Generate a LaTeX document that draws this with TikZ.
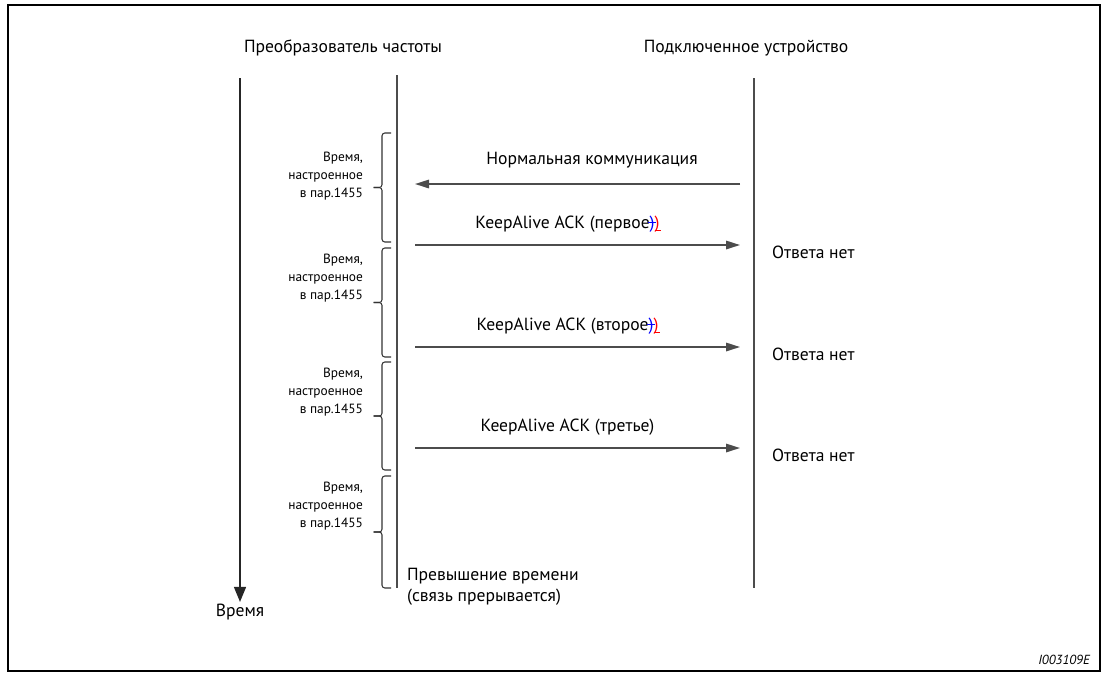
\documentclass[tikz,border=0pt]{standalone}
\usepackage{fontspec}
\setmainfont{PT Sans}
\usetikzlibrary{arrows.meta, positioning}

% tracked-change marks on the closing bracket
\newcommand{\delpar}{{\color{blue}\rlap{\kern-0.1em\rule[0.3em]{0.45em}{0.07em}})}}
\newcommand{\inspar}{{\color{red}\rlap{\rule[-0.18em]{0.35em}{0.07em}})}}

\begin{document}
\begin{tikzpicture}[
  lifeline/.style={line width=0.9pt, black!70},
  msg/.style={-{Triangle[length=2.8mm, width=1.7mm]}, line width=0.9pt, black!70},
  timearr/.style={-{Triangle[length=3mm, width=2.4mm]}, line width=0.8pt, black!85},
  lbl/.style={font=\fontsize{10}{12}\selectfont, inner sep=1pt},
  slbl/.style={font=\fontsize{7.6}{10.2}\selectfont, align=right, inner sep=1pt, anchor=east},
  brk/.style={line width=0.6pt, black!80, rounded corners=1.6pt}
]
  %% frame
  \useasboundingbox (0,0) rectangle (22.12,-13.44);
  \draw[line width=1.3pt] (0.16,-0.1) rectangle (22.0,-13.42);

  %% headings
  \node[lbl] (inv) at (6.86,-0.96) {Преобразователь частоты};
  \node[lbl] (dev) at (14.92,-0.96) {Подключенное устройство};

  %% lifelines
  \coordinate (invtop) at (7.94,-1.5);
  \coordinate (invbot) at (7.94,-11.76);
  \coordinate (devtop) at (15.08,-1.56);
  \coordinate (devbot) at (15.08,-11.76);
  \coordinate (ttop) at (4.8,-1.56);
  \draw[lifeline] (invtop) -- (invbot);
  \draw[lifeline] (devtop) -- (devbot);

  %% time axis
  \node[lbl] (tlbl) at (4.8,-12.24) {Время};
  \draw[timearr] (ttop) -- (tlbl.north);

  %% normal communication
  \coordinate (n0a) at (14.8,-3.68);
  \coordinate (n0b) at (8.3,-3.68);
  \draw[msg] (n0a) -- (n0b);
  \node[lbl] (n0) at (11.84,-3.2) {Нормальная коммуникация};

  %% KeepAlive messages
  \coordinate (k1a) at (8.3,-4.9);
  \coordinate (k1b) at (14.8,-4.9);
  \draw[msg] (k1a) -- (k1b);
  \node[lbl] (k1) at (11.35,-4.48) {KeepAlive ACK (первое\delpar\inspar};
  \node[lbl, anchor=west] (r1) at (15.4,-5.04) {Ответа нет};

  \coordinate (k2a) at (8.3,-6.94);
  \coordinate (k2b) at (14.8,-6.94);
  \draw[msg] (k2a) -- (k2b);
  \node[lbl] (k2) at (11.35,-6.52) {KeepAlive ACK (второе\delpar\inspar};
  \node[lbl, anchor=west] (r2) at (15.4,-7.08) {Ответа нет};

  \coordinate (k3a) at (8.3,-8.96);
  \coordinate (k3b) at (14.8,-8.96);
  \draw[msg] (k3a) -- (k3b);
  \node[lbl] (k3) at (11.35,-8.54) {KeepAlive ACK (третье)};
  \node[lbl, anchor=west] (r3) at (15.4,-9.1) {Ответа нет};

  %% time brackets
  \foreach \top/\bot/\ty [count=\i] in {2.66/4.84/3.52, 4.96/7.14/5.56, 7.24/9.4/7.84, 9.52/11.76/10.12} {
    \pgfmathsetmacro{\mid}{(\top+\bot)/2}
    \draw[brk] (7.82,-\top) -| (7.64,-\mid) -- (7.47,-\mid);
    \draw[brk] (7.47,-\mid) -- (7.64,-\mid) |- (7.82,-\bot);
    \node[slbl] (t\i) at (7.3,-\ty) {Время,\\настроенное\\в пар.1455};
  }

  %% timeout
  \node[lbl, anchor=west, align=left] (tout) at (8.1,-11.74)
    {Превышение времени\\(связь прерывается)};

  %% figure id
  \node[font=\fontsize{7.5}{9}\selectfont\itshape, anchor=east] (fid) at (21.92,-13.2) {I003109E};
\end{tikzpicture}
\end{document}
